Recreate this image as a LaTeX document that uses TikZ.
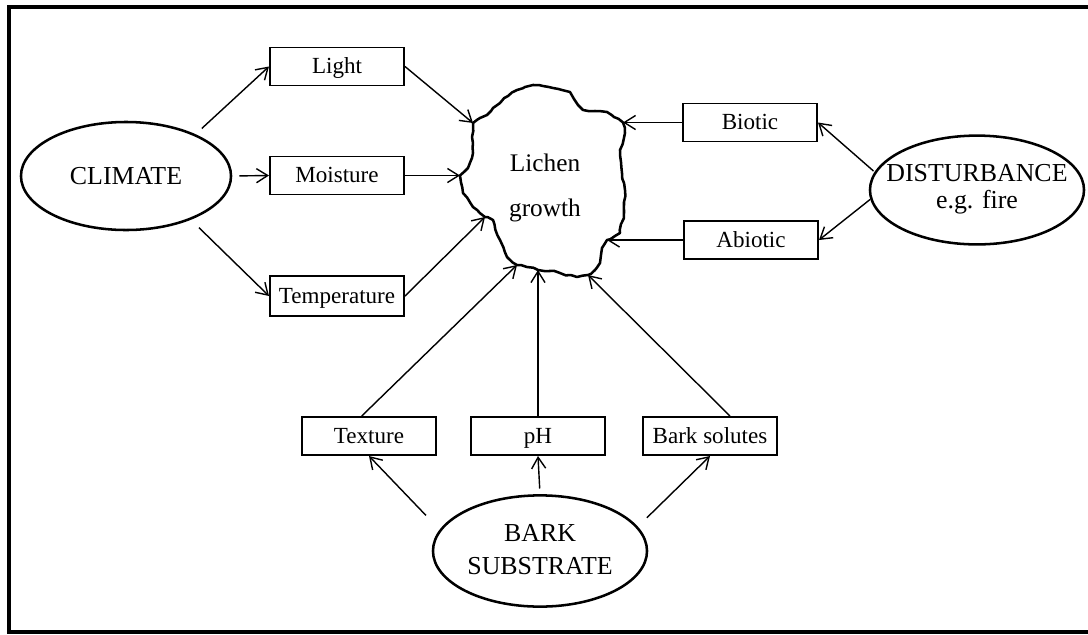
\documentclass[tikz,border=0pt]{standalone}
\usepackage{fontspec}
\setmainfont{Liberation Serif}
\usetikzlibrary{shapes.geometric,arrows.meta,decorations.pathmorphing}

\begin{document}
\begin{tikzpicture}[x=0.025cm,y=-0.025cm]
		\tikzstyle{factor}=[draw, line width=1.4pt, minimum width=3.35cm, minimum height=0.95cm, inner sep=0pt, text height=12pt, text depth=1.5pt, font=\fontsize{16.4}{19}\selectfont]
		\tikzstyle{driver}=[draw, ellipse, line width=1.8pt, inner sep=0pt, font=\fontsize{18.4}{19.2}\selectfont]
		\tikzstyle{arr}=[line width=1pt, -{Straight Barb[length=8pt,width=10pt]}]
		\useasboundingbox (0,0) rectangle (1088,634);
		\draw[line width=3pt] (1095,7)--(9,7)--(9,632)--(1095,632);
		% the three drivers
		\node[driver, minimum width=5.25cm, minimum height=2.7cm] (climate) at (126,176) {\makebox[0pt]{CLIMATE}};
		\node[driver, minimum width=5.35cm, minimum height=2.72cm] (disturbance) at (977,190) {\makebox[0pt]{\begin{tabular}{@{}c@{}}DISTURBANCE\\e.g. fire\end{tabular}}};
		\node[driver, minimum width=5.35cm, minimum height=2.78cm, font=\fontsize{18.4}{23.5}\selectfont] (bark) at (540,551) {\makebox[0pt]{\begin{tabular}{@{}c@{}}BARK\\SUBSTRATE\end{tabular}}};
		% factors
		\node[factor] (light) at (337,66.5) {Light};
		\node[factor] (moisture) at (337,175.5) {Moisture};
		\node[factor, minimum height=1.02cm] (temperature) at (337,296) {Temperature};
		\node[factor] (biotic) at (750,122.5) {Biotic};
		\node[factor] (abiotic) at (751,240) {Abiotic};
		\node[factor] (texture) at (369,436) {Texture};
		\node[factor] (ph) at (538,436) {pH};
		\node[factor] (solutes) at (710,436) {Bark solutes};
		% lichen growth
		\coordinate (lightin) at (473,123);
		\coordinate (moistin) at (460,175.5);
		\coordinate (tempin) at (485,217);
		\coordinate (bioin) at (623,122.5);
		\coordinate (abioin) at (607,240);
		\coordinate (textin) at (517,265);
		\coordinate (phin) at (538,270);
		\coordinate (solin) at (588,275);
		\pgfmathsetseed{7}
		\draw[line width=1.8pt, line join=round, decorate, decoration={random steps, segment length=4pt, amplitude=0.7pt}]
			(lightin)--(480,118)--(487,115)--(493,108)--(500,103)--(508,96)--(517,90)--(525,87)--(533,85)--(543,86)--(553,88)--(562,90)--(570,92)--(574,99)--(578,105)--(583,110)--(595,111)--(607,112)--(614,117)
			--(bioin)--(625,133)--(620,150)--(621,162)--(622,173)--(625,190)--(624,202)--(624,213)--(620,233)
			--(abioin)--(602,248)--(601,255)--(600,263)--(595,270)
			--(solin)--(577,277)--(560,273)--(550,271)
			--(phin)--(527,267)
			--(textin)--(507,257)--(500,240)--(493,220)
			--(tempin)--(473,207)--(463,193)
			--(moistin)--(468,168)--(473,153)--(472,137)--cycle;
		\node[font=\fontsize{18}{32}\selectfont, align=center] (lichen) at (545,188) {Lichen\\growth};
		% connectors
		\draw[arr, shorten <=6pt] (climate.31)--(light.west);
		\draw[arr, shorten <=5pt] (climate.east)--(moisture.west);
		\draw[arr, shorten <=8pt] (climate.-34)--(temperature.west);
		\draw[arr] (light.east)--(lightin);
		\draw[arr] (moisture.east)--(moistin);
		\draw[arr] (temperature.east)--(tempin);
		\draw[arr] (biotic.west)--(bioin);
		\draw[arr] (abiotic.west)--(abioin);
		\draw[arr] (texture.110)--(textin);
		\draw[arr] (ph.north)--(phin);
		\draw[arr] (solutes.45)--(solin);
		\draw[arr, shorten <=1pt] (disturbance.170)--(biotic.east);
		\draw[arr] (disturbance.185)--(abiotic.east);
		\draw[arr, shorten <=14pt] (bark.168)--(texture.south);
		\draw[arr, shorten <=9pt] (bark.14)--(solutes.south);
		\draw[arr, shorten <=4pt] (bark.north)--(ph.south);
	\end{tikzpicture}
\end{document}
